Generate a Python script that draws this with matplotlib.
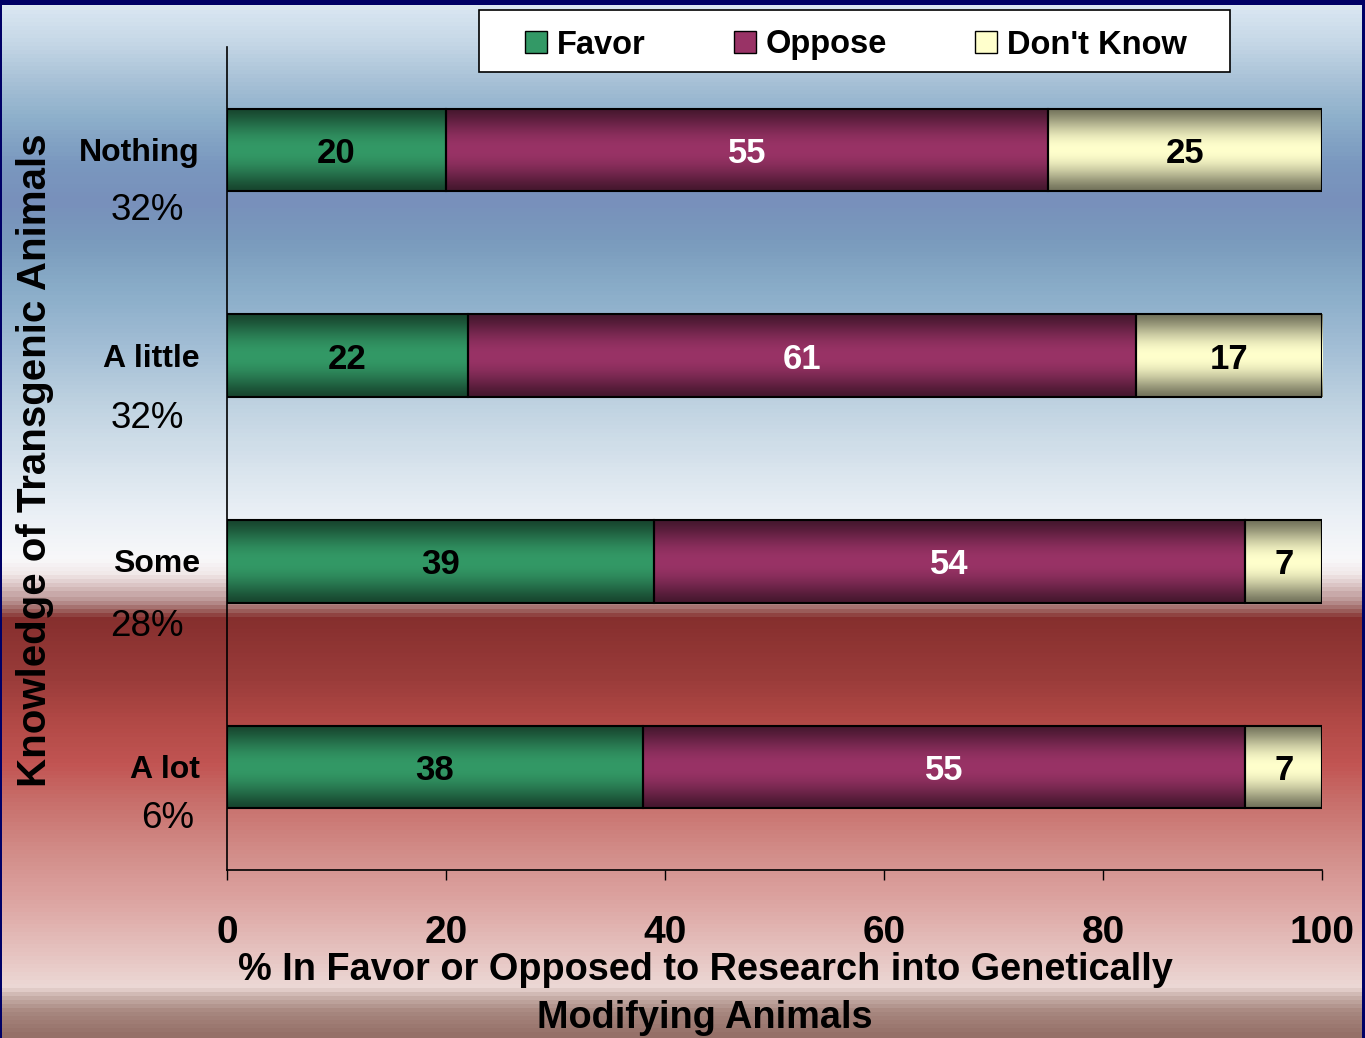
import numpy as np
import matplotlib
matplotlib.use("Agg")
import matplotlib.pyplot as plt
from matplotlib.colors import to_rgb, LinearSegmentedColormap
from matplotlib.patches import Patch, Rectangle

plt.rcParams['font.family'] = ['Liberation Sans', 'DejaVu Sans']

# data
categories = ["Nothing", "A little", "Some", "A lot"]
shares = ["32%", "32%", "28%", "6%"]
favor = [20, 22, 39, 38]
oppose = [55, 61, 54, 55]
dont_know = [25, 17, 7, 7]
series_names = ["Favor", "Oppose", "Don't Know"]

series_colors = ["#339966", "#993366", "#ffffcc"]
label_colors = ["black", "white", "black"]

W, H = 1365, 1038
fig = plt.figure(figsize=(W / 100, H / 100), dpi=100)

# slide background (vertical gradient, top -> bottom)
bg_stops = [
    (0, "#dce8f3"), (40, "#c5d7e6"), (80, "#a6c0d6"), (115, "#8eb0cb"),
    (160, "#7a98bf"), (200, "#7890bb"), (240, "#7a9bbd"), (290, "#8aadc9"),
    (340, "#a0bcd4"), (400, "#bdd1e0"), (460, "#d6e2ec"), (510, "#e9eff5"),
    (560, "#f8f8fa"), (575, "#f1e8e8"), (588, "#d8c0c0"), (600, "#bb9695"),
    (610, "#9c605d"), (618, "#862f2e"), (680, "#9a3c3a"), (720, "#b04845"),
    (765, "#c25553"), (805, "#c8706c"), (850, "#d18a86"), (900, "#dca3a0"),
    (950, "#e5c0bd"), (990, "#ecd8d5"), (1000, "#c8b0aa"), (1015, "#a88880"),
    (1038, "#957068"),
]
cmap_bg = LinearSegmentedColormap.from_list(
    "bg", [(p / H, c) for p, c in bg_stops])
bg = fig.add_axes([0, 0, 1, 1], zorder=-10)
bg.imshow(np.linspace(0, 1, 520).reshape(-1, 1), cmap=cmap_bg, aspect="auto",
          extent=(0, 1, 0, 1), origin="upper", interpolation="nearest")
bg.set_xlim(0, 1)
bg.set_ylim(0, 1)
bg.axis("off")
for x0, y0, w, h in [(0, 1 - 5 / H, 1, 5 / H), (0, 0, 2 / W, 1), (1 - 3 / W, 0, 3 / W, 1)]:
    bg.add_patch(Rectangle((x0, y0), w, h, color="#000066", lw=0))

ax = fig.add_axes([227 / W, 168 / H, 1095 / W, 823 / H])
ax.set_facecolor("none")

y = np.arange(len(categories))
t = np.linspace(0, 1, 96)
shade = 0.45 + 0.55 * np.sin(np.pi * t) ** 1.3

left = np.zeros(len(categories))
for vals, col, lc in zip([favor, oppose, dont_know], series_colors, label_colors):
    vals = np.array(vals)
    bars = ax.barh(y, vals, left=left, height=0.4, facecolor="none",
                   edgecolor="black", lw=1.5, zorder=3)
    grad = np.array(to_rgb(col))[None, :] * shade[:, None]
    grad = grad.reshape(-1, 1, 3)
    for p in bars:
        x0, y0 = p.get_x(), p.get_y()
        im = ax.imshow(grad, extent=(x0, x0 + p.get_width(), y0 + p.get_height(), y0),
                       aspect="auto", interpolation="bilinear", zorder=2)
        im.set_clip_path(p)
    for yi, v, l in zip(y, vals, left):
        ax.annotate(str(v), xy=(l + v / 2, yi), xytext=(0, -2.5),
                    textcoords="offset points", ha="center", va="center",
                    fontsize=25, fontweight="bold", color=lc, zorder=4)
    left = left + vals

ax.set_xlim(0, 100)
ax.set_ylim(3.5, -0.5)
ax.set_aspect("auto")
for s in ["top", "right"]:
    ax.spines[s].set_visible(False)
for s in ["left", "bottom"]:
    ax.spines[s].set_linewidth(1.2)
ax.set_xticks(range(0, 101, 20))
ax.tick_params(axis="x", length=7.5, width=1, pad=25, labelsize=28)
for lab in ax.get_xticklabels():
    lab.set_fontweight("bold")
ax.set_yticks([])

# category labels with share of respondents
share_dx = [-57.6, -57.6, -57.6, -42.5]
share_dy = [-44, -45, -47, -37]
for yi, cat, sh, dx, dy in zip(y, categories, shares, share_dx, share_dy):
    ax.annotate(cat, xy=(0, yi), xycoords=("axes fraction", "data"),
                xytext=(-19.4, -2.2), textcoords="offset points",
                ha="right", va="center", fontsize=23, fontweight="bold")
    ax.annotate(sh, xy=(0, yi), xycoords=("axes fraction", "data"),
                xytext=(dx, dy), textcoords="offset points",
                ha="center", va="center", fontsize=26.5)

ax.set_ylabel("Knowledge of Transgenic Animals", fontsize=29, fontweight="bold",
              va="center")
ax.yaxis.set_label_coords(-0.1753, 0.498)
ax.set_xlabel("% In Favor or Opposed to Research into Genetically\nModifying Animals",
              fontsize=27.3, fontweight="bold", linespacing=1.45, va="center")
ax.xaxis.set_label_coords(0.4365, -0.1505)

# legend: frame drawn separately, entries centred inside it
bg.add_patch(Rectangle((479 / W, 1 - 72 / H), 751 / W, 62 / H, facecolor="white",
                       edgecolor="black", lw=1.2, zorder=5))
handles = [Patch(facecolor=c, edgecolor="black", lw=1) for c in series_colors]
leg = fig.legend(handles, series_names, loc="center", ncol=3,
                 bbox_to_anchor=(856 / W, 1 - 45 / H),
                 prop={"size": 23.5, "weight": "bold"}, frameon=False,
                 handlelength=0.68, handleheight=0.68, handletextpad=0.3,
                 columnspacing=2.7, borderpad=0, borderaxespad=0)

fig.savefig("out.png", dpi=100)
